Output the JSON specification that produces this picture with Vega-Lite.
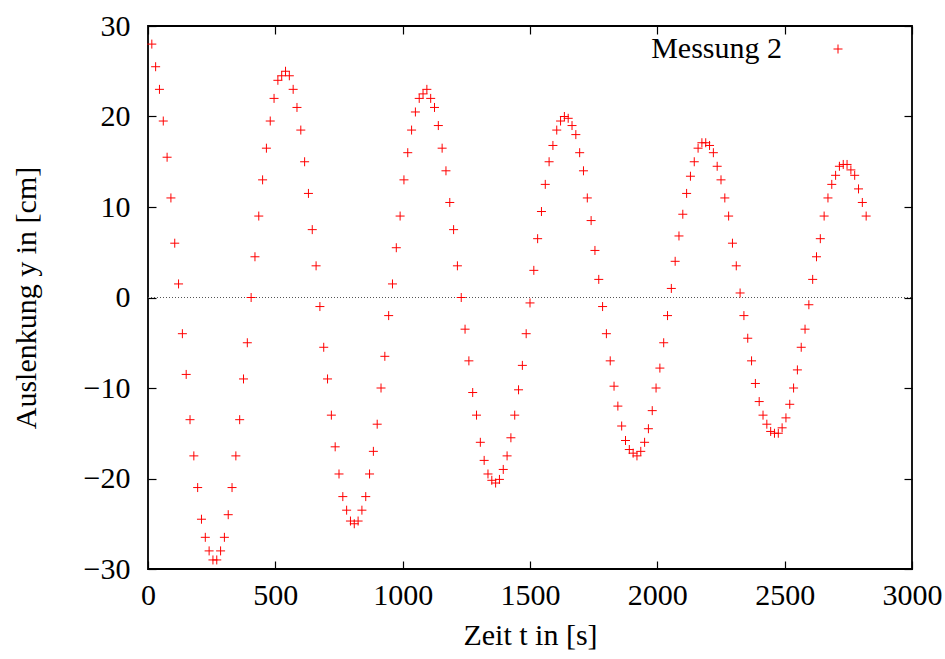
{
  "$schema": "https://vega.github.io/schema/vega-lite/v6.json",
  "width": 764,
  "height": 543,
  "autosize": {"type": "none"},
  "padding": {"left": 148, "top": 26, "right": 33, "bottom": 90},
  "background": "white",
  "config": {
    "font": "Liberation Serif",
    "view": {"stroke": "black", "strokeWidth": 1.8},
    "axis": {
      "grid": false,
      "domain": false,
      "tickColor": "black",
      "tickWidth": 1.2,
      "tickSize": -8,
      "labelFont": "Liberation Serif",
      "labelFontSize": 30,
      "labelColor": "black",
      "titleFont": "Liberation Serif",
      "titleFontSize": 30,
      "titleFontWeight": "normal",
      "titleColor": "black"
    }
  },
  "resolve": {"axis": {"x": "independent", "y": "independent"}},
  "data": {
    "values": [
      {"t":15,"y":28},{"t":30,"y":25.5},{"t":45,"y":23},{"t":60,"y":19.5},{"t":75,"y":15.5},{"t":90,"y":11},{"t":105,"y":6},{"t":120,"y":1.5},{"t":135,"y":-4},{"t":150,"y":-8.5},
      {"t":165,"y":-13.5},{"t":180,"y":-17.5},{"t":195,"y":-21},{"t":210,"y":-24.5},{"t":225,"y":-26.5},{"t":240,"y":-28},{"t":255,"y":-29},{"t":270,"y":-29},{"t":285,"y":-28},{"t":300,"y":-26.5},
      {"t":315,"y":-24},{"t":330,"y":-21},{"t":345,"y":-17.5},{"t":360,"y":-13.5},{"t":375,"y":-9},{"t":390,"y":-5},{"t":405,"y":0},{"t":420,"y":4.5},{"t":435,"y":9},{"t":450,"y":13},
      {"t":465,"y":16.5},{"t":480,"y":19.5},{"t":495,"y":22},{"t":510,"y":24},{"t":525,"y":24.5},{"t":540,"y":25},{"t":555,"y":24.5},{"t":570,"y":23},{"t":585,"y":21},{"t":600,"y":18.5},
      {"t":615,"y":15},{"t":630,"y":11.5},{"t":645,"y":7.5},{"t":660,"y":3.5},{"t":675,"y":-1},{"t":690,"y":-5.5},{"t":705,"y":-9},{"t":720,"y":-13},{"t":735,"y":-16.5},{"t":750,"y":-19.5},
      {"t":765,"y":-22},{"t":780,"y":-23.5},{"t":795,"y":-24.7},{"t":810,"y":-25},{"t":825,"y":-24.7},{"t":840,"y":-23.5},{"t":855,"y":-22},{"t":870,"y":-19.5},{"t":885,"y":-17},{"t":900,"y":-14},
      {"t":915,"y":-10},{"t":930,"y":-6.5},{"t":945,"y":-2},{"t":960,"y":1.5},{"t":975,"y":5.5},{"t":990,"y":9},{"t":1005,"y":13},{"t":1020,"y":16},{"t":1035,"y":18.5},{"t":1050,"y":20.5},
      {"t":1065,"y":22},{"t":1080,"y":22.5},{"t":1095,"y":23},{"t":1110,"y":22},{"t":1125,"y":21},{"t":1140,"y":19},{"t":1155,"y":16.5},{"t":1170,"y":14},{"t":1185,"y":10.5},{"t":1200,"y":7.5},
      {"t":1215,"y":3.5},{"t":1230,"y":0},{"t":1245,"y":-3.5},{"t":1260,"y":-7},{"t":1275,"y":-10.5},{"t":1290,"y":-13},{"t":1305,"y":-16},{"t":1320,"y":-18},{"t":1335,"y":-19.5},{"t":1350,"y":-20.2},
      {"t":1365,"y":-20.5},{"t":1380,"y":-20.1},{"t":1395,"y":-19},{"t":1410,"y":-17.5},{"t":1425,"y":-15.5},{"t":1440,"y":-13},{"t":1455,"y":-10.2},{"t":1470,"y":-7.5},{"t":1485,"y":-4},{"t":1500,"y":-0.6},
      {"t":1515,"y":3},{"t":1530,"y":6.5},{"t":1545,"y":9.5},{"t":1560,"y":12.5},{"t":1575,"y":15},{"t":1590,"y":16.8},{"t":1605,"y":18.5},{"t":1620,"y":19.5},{"t":1635,"y":20},{"t":1650,"y":19.8},
      {"t":1665,"y":19},{"t":1680,"y":18},{"t":1695,"y":16},{"t":1710,"y":14},{"t":1725,"y":11},{"t":1740,"y":8.5},{"t":1755,"y":5.2},{"t":1770,"y":2},{"t":1785,"y":-1},{"t":1800,"y":-4},
      {"t":1815,"y":-7},{"t":1830,"y":-9.8},{"t":1845,"y":-12},{"t":1860,"y":-14.2},{"t":1875,"y":-15.8},{"t":1890,"y":-16.8},{"t":1905,"y":-17.2},{"t":1920,"y":-17.5},{"t":1935,"y":-17},{"t":1950,"y":-16},
      {"t":1965,"y":-14.5},{"t":1980,"y":-12.5},{"t":1995,"y":-10},{"t":2010,"y":-7.8},{"t":2025,"y":-5},{"t":2040,"y":-2},{"t":2055,"y":1},{"t":2070,"y":4},{"t":2085,"y":6.8},{"t":2100,"y":9.2},
      {"t":2115,"y":11.5},{"t":2130,"y":13.4},{"t":2145,"y":15},{"t":2160,"y":16.5},{"t":2175,"y":17.1},{"t":2190,"y":17.1},{"t":2205,"y":16.8},{"t":2220,"y":16},{"t":2235,"y":14.5},{"t":2250,"y":13},
      {"t":2265,"y":11},{"t":2280,"y":9},{"t":2295,"y":6},{"t":2310,"y":3.5},{"t":2325,"y":0.5},{"t":2340,"y":-2},{"t":2355,"y":-4.5},{"t":2370,"y":-7},{"t":2385,"y":-9.5},{"t":2400,"y":-11.5},
      {"t":2415,"y":-13},{"t":2430,"y":-14},{"t":2445,"y":-14.8},{"t":2460,"y":-15},{"t":2475,"y":-15},{"t":2490,"y":-14.4},{"t":2505,"y":-13.3},{"t":2520,"y":-11.8},{"t":2535,"y":-10},{"t":2550,"y":-8},
      {"t":2565,"y":-5.5},{"t":2580,"y":-3.5},{"t":2595,"y":-0.8},{"t":2610,"y":2},{"t":2625,"y":4.5},{"t":2640,"y":6.5},{"t":2655,"y":9},{"t":2670,"y":11},{"t":2685,"y":12.5},{"t":2700,"y":13.5},
      {"t":2715,"y":14.5},{"t":2730,"y":14.7},{"t":2745,"y":14.7},{"t":2760,"y":14.1},{"t":2775,"y":13.5},{"t":2790,"y":12},{"t":2805,"y":10.5},{"t":2820,"y":9}
    ]
  },
  "layer": [
    {
      "data": {"values": [{}]},
      "mark": {"type": "rule", "color": "#555555", "strokeWidth": 1, "strokeDash": [1, 2]},
      "encoding": {
        "x": {"datum": 0, "type": "quantitative", "scale": {"domain": [0, 3000], "nice": false, "zero": false},
              "axis": {"orient": "top", "values": [0, 500, 1000, 1500, 2000, 2500, 3000], "labels": false, "title": null, "tickSize": -8, "tickColor": "black", "tickWidth": 1.2}},
        "x2": {"datum": 3000},
        "y": {"datum": 0, "type": "quantitative", "scale": {"domain": [-30, 30], "nice": false, "zero": false},
              "axis": {"orient": "right", "values": [-30, -20, -10, 0, 10, 20, 30], "labels": false, "title": null, "tickSize": -8, "tickColor": "black", "tickWidth": 1.2}}
      }
    },
    {
      "mark": {"type": "point", "shape": "M-1,0H1M0,-1V1", "filled": false, "strokeWidth": 1, "size": 81, "opacity": 1},
      "encoding": {
        "x": {"field": "t", "type": "quantitative", "scale": {"domain": [0, 3000], "nice": false, "zero": false},
              "axis": {"orient": "bottom", "values": [0, 500, 1000, 1500, 2000, 2500, 3000], "format": "d", "labelFlush": false,
                       "labelPadding": 19, "labelBaseline": "top", "tickSize": -8, "tickColor": "black", "tickWidth": 1.2,
                       "labelFont": "Liberation Serif", "labelFontSize": 30, "labelColor": "black",
                       "title": "Zeit t in [s]", "titleFont": "Liberation Serif", "titleFontSize": 30, "titleFontWeight": "normal", "titleColor": "black",
                       "titleY": 75, "titleBaseline": "alphabetic", "titleX": 382, "titleAnchor": "middle"}},
        "y": {"field": "y", "type": "quantitative", "scale": {"domain": [-30, 30], "nice": false, "zero": false},
              "axis": {"orient": "left", "values": [-30, -20, -10, 0, 10, 20, 30], "format": "d", "labelFlush": false,
                       "labelPadding": 26, "labelBaseline": "middle", "tickSize": -8, "tickColor": "black", "tickWidth": 1.2,
                       "labelFont": "Liberation Serif", "labelFontSize": 30, "labelColor": "black",
                       "title": "Auslenkung y in [cm]", "titleFont": "Liberation Serif", "titleFontSize": 30, "titleFontWeight": "normal", "titleColor": "black",
                       "titleX": -113, "titleY": 271.5, "titleAngle": -90, "titleBaseline": "alphabetic", "titleAlign": "center"}},
        "color": {"datum": "Messung 2", "type": "nominal", "scale": {"range": ["#ff0000"]},
                  "legend": {"title": null, "orient": "none", "legendX": 675, "legendY": 8, "padding": 0,
                             "symbolType": "M-1,0H1M0,-1V1", "symbolSize": 81, "symbolStrokeWidth": 1, "symbolStrokeColor": "#ff0000",
                             "labelFont": "Liberation Serif", "labelFontSize": 30, "labelColor": "black", "labelAlign": "right", "labelOffset": -71, "labelLimit": 300}}
      }
    }
  ]
}
